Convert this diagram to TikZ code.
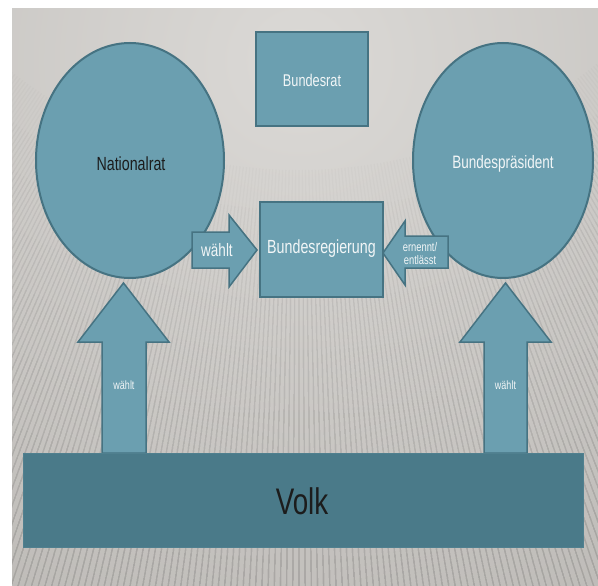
\documentclass[tikz,border=0pt]{standalone}
\usepackage{fontspec}
\setmainfont{Liberation Sans}[FakeStretch=0.75]
\usetikzlibrary{shapes.geometric}
\definecolor{fillc}{RGB}{107,159,176}
\definecolor{edgec}{RGB}{70,115,130}
\definecolor{volkc}{RGB}{74,122,137}
\definecolor{volkedge}{RGB}{80,128,143}
\definecolor{bglight}{RGB}{219,217,214}
\definecolor{bgdark}{RGB}{172,169,165}
\definecolor{txtdark}{RGB}{28,28,28}
\definecolor{txtlight}{RGB}{242,246,247}
\tikzset{
  blob/.style={ellipse, draw=edgec, fill=fillc, line width=2pt, inner sep=0pt},
  boxnode/.style={rectangle, draw=edgec, fill=fillc, line width=2pt, inner sep=0pt},
  volkbox/.style={rectangle, draw=volkedge, fill=volkc, line width=1pt, inner sep=0pt},
  blockarrow/.style={draw=edgec, fill=fillc, line width=1.5pt, line join=miter},
  stripe/.style={black, line width=1.3pt, opacity=.015},
  lbl/.style={inner sep=0pt, align=center},
}
\begin{document}
\begin{tikzpicture}[x=1pt,y=-1pt]
\useasboundingbox (0,0) rectangle (598,586);
\fill[white] (0,0) rectangle (598,586);
% background
\begin{scope}
  \clip (12,9) rectangle (598,586);
  \fill[bglight] (12,9) rectangle (598,586);
  \shade[inner color=bglight, outer color=bgdark] (299,60) circle (1000);
  \foreach \a in {-70,-69.6,...,70} {
    \foreach \r in {470,510,550,600,650,710,780,860} {
      \draw[stripe] ({299+\r*sin(\a)},{-300+\r*cos(\a)}) -- ({299+1100*sin(\a)},{-300+1100*cos(\a)});
    }
  }
\end{scope}
% main nodes
\node[blob, minimum width=188pt, minimum height=235pt] (nr) at (130,160.5) {};
\node[blob, minimum width=180pt, minimum height=235pt] (bp) at (503,160.5) {};
\node[boxnode, minimum width=112pt, minimum height=94pt] (br) at (312,79) {};
\node[boxnode, minimum width=123pt, minimum height=95pt] (breg) at (321.5,249.5) {};
\node[lbl, text=txtdark, font=\fontsize{19}{22}\selectfont] (nrtext) at (131,164) {Nationalrat};
\node[lbl, text=txtlight, font=\fontsize{18}{22}\selectfont] (bptext) at (503,164) {Bundespräsident};
\node[lbl, text=txtlight, font=\fontsize{17}{20}\selectfont] (brtext) at (312,80) {Bundesrat};
\node[lbl, text=txtlight, font=\fontsize{19}{22}\selectfont] (bregtext) at (321.5,249) {Bundesregierung};
% horizontal block arrows
\coordinate (a1tip) at (257,250);
\draw[blockarrow] (192,232) -- (229,232) -- (229,215) -- (a1tip) -- (229,287) -- (229,268) -- (192,268) -- cycle;
\node[lbl, text=txtlight, font=\fontsize{18}{20}\selectfont] (a1) at (217,250) {wählt};
\coordinate (a2tip) at (383,253);
\draw[blockarrow] (448,236) -- (405,236) -- (405,221) -- (a2tip) -- (405,285) -- (405,268) -- (448,268) -- cycle;
\node[lbl, text=txtlight, font=\fontsize{12.5}{13}\selectfont] (a2) at (420,253.5) {ernennt/\\entlässt};
% vertical block arrows
\coordinate (a3tip) at (123.5,283);
\draw[blockarrow] (102,453) -- (102,342) -- (78,342) -- (a3tip) -- (169,342) -- (146,342) -- (146,453) -- cycle;
\node[lbl, text=txtlight, font=\fontsize{12}{13}\selectfont] (a3) at (124,385) {wählt};
\coordinate (a4tip) at (505.5,283);
\draw[blockarrow] (484,453) -- (484,342) -- (460,342) -- (a4tip) -- (551,342) -- (527,342) -- (527,453) -- cycle;
\node[lbl, text=txtlight, font=\fontsize{12}{13}\selectfont] (a4) at (505.5,385) {wählt};
% Volk
\node[volkbox, minimum width=560pt, minimum height=94pt] (volk) at (303,500) {};
\node[lbl, text=txtdark, font=\fontsize{37}{40}\selectfont] (volktext) at (302,501) {Volk};
\end{tikzpicture}
\end{document}
